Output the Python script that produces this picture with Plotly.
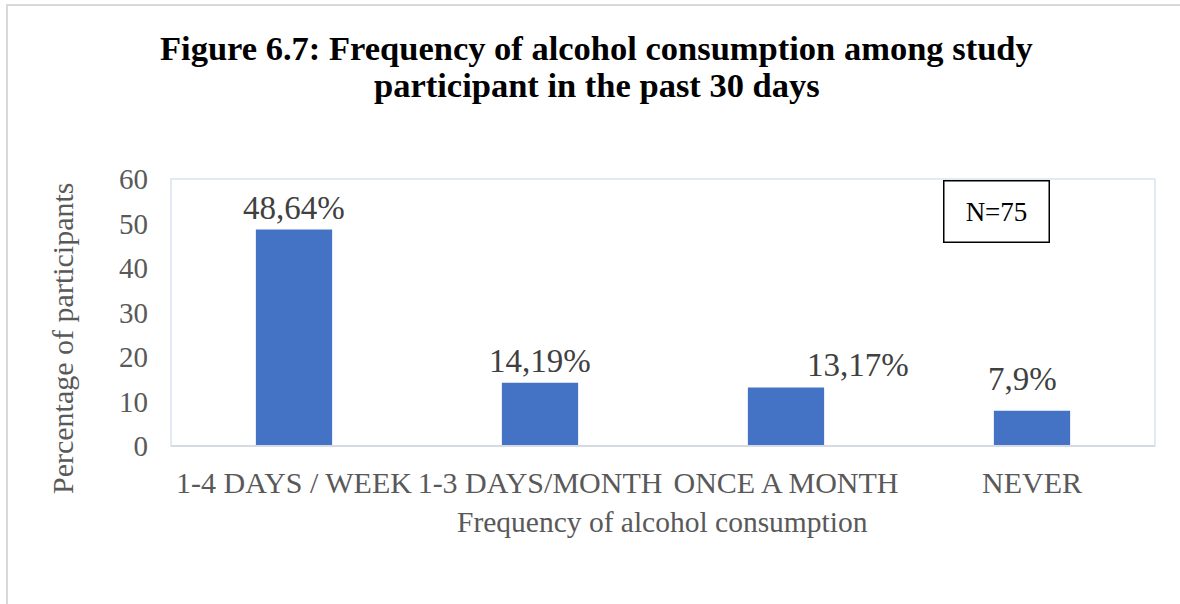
import plotly.graph_objects as go

# Frequency of alcohol consumption in the past 30 days
categories = ["1-4 DAYS / WEEK", "1-3 DAYS/MONTH", "ONCE A MONTH", "NEVER"]
percentages = [48.64, 14.19, 13.17, 7.9]
value_labels = ["48,64%", "14,19%", "13,17%", "7,9%"]
y_ticks = [0, 10, 20, 30, 40, 50, 60]

W, H = 1180, 604
PL, PR, PT, PB = 171, 1155, 179, 446  # plot area in pixels
SERIF = "Liberation Serif, Times New Roman, serif"
GRAY = "#595959"


def px_x(p):
    return (p - PL) / (PR - PL)


def px_y(p):
    return (PB - p) / (PB - PT)


fig = go.Figure(
    go.Bar(
        x=categories,
        y=percentages,
        marker=dict(color="#4472C4", line=dict(width=0)),
        width=0.31,
        hoverinfo="x+y",
    )
)

annotations = []
# data labels above bars (third label sits to the right, fourth a bit higher)
label_dx = [0, 0, 72, -10]
label_dy = [0, 0, 0, 10]
for cat, val, txt, dx, dy in zip(categories, percentages, value_labels, label_dx, label_dy):
    annotations.append(dict(
        x=cat, y=val, xref="x", yref="y", text=txt, showarrow=False,
        xanchor="center", yanchor="bottom", xshift=dx, yshift=2 + dy,
        font=dict(family=SERIF, size=33, color="#404040"),
    ))

# title, two lines
annotations.append(dict(
    x=px_x(596), y=px_y(48), xref="paper", yref="paper",
    text="<b>Figure 6.7: Frequency of alcohol consumption among study</b>",
    showarrow=False, xanchor="center", yanchor="middle",
    font=dict(family=SERIF, size=34.5, color="#000000"),
))
annotations.append(dict(
    x=px_x(597), y=px_y(85), xref="paper", yref="paper",
    text="<b>participant in the past 30 days</b>",
    showarrow=False, xanchor="center", yanchor="middle",
    font=dict(family=SERIF, size=34.5, color="#000000"),
))

# axis titles
annotations.append(dict(
    x=px_x(62), y=px_y(338), xref="paper", yref="paper",
    text="Percentage of participants", textangle=-90,
    showarrow=False, xanchor="center", yanchor="middle",
    font=dict(family=SERIF, size=30, color=GRAY),
))
annotations.append(dict(
    x=px_x(662), y=px_y(522), xref="paper", yref="paper",
    text="Frequency of alcohol consumption",
    showarrow=False, xanchor="center", yanchor="middle",
    font=dict(family=SERIF, size=29.5, color=GRAY),
))

# sample size box
annotations.append(dict(
    x=px_x(996), y=px_y(211), xref="paper", yref="paper",
    text="N=75", showarrow=False, xanchor="center", yanchor="middle",
    width=100, height=56, bordercolor="#000000", borderwidth=1.5,
    bgcolor="#FFFFFF", borderpad=2,
    font=dict(family=SERIF, size=27, color="#000000"),
))

shapes = [
    # outer frame
    dict(type="rect", xref="paper", yref="paper",
         x0=px_x(7), x1=px_x(1200), y0=px_y(5), y1=px_y(640),
         line=dict(color="#D9D9D9", width=2), fillcolor="rgba(0,0,0,0)", layer="below"),
    # plot area border
    dict(type="rect", xref="paper", yref="paper", x0=0, x1=1, y0=0, y1=1,
         line=dict(color="#DCE4F2", width=1.5), fillcolor="rgba(0,0,0,0)", layer="below"),
    # baseline
    dict(type="line", xref="paper", yref="paper", x0=0, x1=1, y0=0, y1=0,
         line=dict(color="#D6DAE2", width=2), layer="above"),
]

fig.update_layout(
    width=W, height=H,
    margin=dict(l=PL, r=W - PR, t=PT, b=H - PB, autoexpand=False),
    paper_bgcolor="#FFFFFF", plot_bgcolor="#FFFFFF",
    showlegend=False,
    annotations=annotations,
    shapes=shapes,
    bargap=0.69,
)
fig.update_xaxes(
    type="category", showgrid=False, zeroline=False, showline=False,
    ticks="", tickfont=dict(family=SERIF, size=30, color=GRAY),
    ticklabelstandoff=16,
)
fig.update_yaxes(
    range=[0, 60], tickvals=y_ticks, showgrid=False, zeroline=False,
    showline=False, ticks="", tickfont=dict(family=SERIF, size=29, color=GRAY),
    ticklabelstandoff=22,
)

fig.write_html("out.html")
